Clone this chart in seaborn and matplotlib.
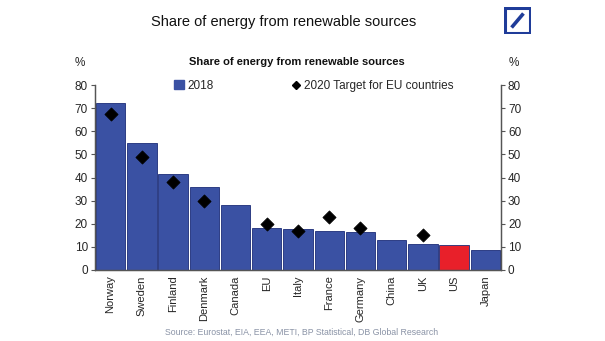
import matplotlib
matplotlib.use("Agg")
import matplotlib.pyplot as plt
import matplotlib.patches as mpatches
from matplotlib.lines import Line2D
import seaborn as sns
import numpy as np
import pandas as pd

countries = ["Norway", "Sweden", "Finland", "Denmark", "Canada", "EU", "Italy",
             "France", "Germany", "China", "UK", "US", "Japan"]
share_2018 = [72.4, 54.8, 41.3, 36.1, 28.3, 18.2, 17.7, 16.9, 16.6, 12.9, 11.3, 11.0, 8.7]
target_2020 = [67.5, 49, 38, 30, np.nan, 20, 17, 23, 18, np.nan, 15, np.nan, np.nan]
y_ticks = [0, 10, 20, 30, 40, 50, 60, 70, 80]

BLUE = "#3a51a3"
RED = "#e8202a"
colors = [RED if c == "US" else BLUE for c in countries]

sns.set_style("white")
plt.rcParams["font.family"] = ["Liberation Sans", "DejaVu Sans"]

df = pd.DataFrame({"country": countries, "share": share_2018, "target": target_2020})

fig = plt.figure(figsize=(6.05, 3.41), dpi=100)
ax = fig.add_axes([95 / 605, 1 - 270 / 341, 406 / 605, (270 - 85) / 341])

sns.barplot(data=df, x="country", y="share", hue="country", palette=colors,
            legend=False, width=0.94, edgecolor="#1c2c78", linewidth=0.6,
            saturation=1, ax=ax)
sns.scatterplot(data=df.dropna(), x="country", y="target", marker="D", s=45,
                color="black", edgecolor="black", ax=ax, zorder=5, legend=False)

ax.set_xlim(-0.5, len(countries) - 0.5)
ax.set_ylim(0, 80)
ax.set_yticks(y_ticks)
ax.set_yticklabels([str(v) for v in y_ticks], fontsize=8.5)
ax.set_xlabel("")
ax.set_ylabel("")
ax.set_xticks(range(len(countries)))
ax.set_xticklabels(countries, rotation=90, fontsize=8)
ax.tick_params(axis="x", length=0, pad=4)
# category boundary ticks
ax.set_xticks(np.arange(-0.5, len(countries), 1), minor=True)
ax.tick_params(axis="x", which="minor", length=4, width=0.8, color="#555555", direction="out")
ax.tick_params(axis="y", length=3, width=0.8, color="#555555", direction="out", pad=2)

ax.spines["top"].set_visible(False)
for side in ["left", "right", "bottom"]:
    ax.spines[side].set_color("#555555")
    ax.spines[side].set_linewidth(0.9)

ax2 = ax.twinx()
ax2.set_ylim(0, 80)
ax2.set_yticks(y_ticks)
ax2.set_yticklabels([str(v) for v in y_ticks], fontsize=8.5)
ax2.tick_params(axis="y", length=3, width=0.8, color="#555555", direction="out", pad=2)
ax2.spines["top"].set_visible(False)
for side in ["left", "right", "bottom"]:
    ax2.spines[side].set_color("#555555")
    ax2.spines[side].set_linewidth(0.9)

# legend
handles = [mpatches.Patch(facecolor=BLUE, edgecolor=BLUE, label="2018"),
           Line2D([], [], marker="D", color="black", linestyle="none",
                  markersize=4, label="2020 Target for EU countries")]
leg = ax.legend(handles=handles, ncol=2, frameon=False, fontsize=8.5,
                loc="center", bbox_to_anchor=((314 - 95) / 406, (270 - 86) / 185),
                columnspacing=6.6, handlelength=0.8, handletextpad=0.3,
                handleheight=0.8)

# texts
fig.text(284 / 605, 1 - 22 / 341, "Share of energy from renewable sources",
         ha="center", va="center", fontsize=10.5, color="#111111")
fig.text(297 / 605, 1 - 62 / 341, "Share of energy from renewable sources",
         ha="center", va="center", fontsize=8, fontweight="bold", color="#111111")
fig.text(80 / 605, 1 - 63 / 341, "%", ha="center", va="center", fontsize=8.5)
fig.text(514 / 605, 1 - 63 / 341, "%", ha="center", va="center", fontsize=8.5)
fig.text(302 / 605, 1 - 332 / 341,
         "Source: Eurostat, EIA, EEA, METI, BP Statistical, DB Global Research",
         ha="center", va="center", fontsize=6.3, color="#8a93a6")

# logo
lx0, ly0, lw = 504, 7, 27
logo_ax = fig.add_axes([lx0 / 605, 1 - (ly0 + lw) / 341, lw / 605, lw / 341])
logo_ax.set_xlim(0, 1)
logo_ax.set_ylim(0, 1)
logo_ax.axis("off")
logo_ax.add_patch(mpatches.Rectangle((0.04, 0.04), 0.92, 0.92, fill=False,
                                     edgecolor="#1f3c99", linewidth=2.2))
logo_ax.plot([0.28, 0.72], [0.24, 0.76], color="#1f3c99", linewidth=2.6,
             solid_capstyle="butt")

fig.savefig("out.png", dpi=100)
